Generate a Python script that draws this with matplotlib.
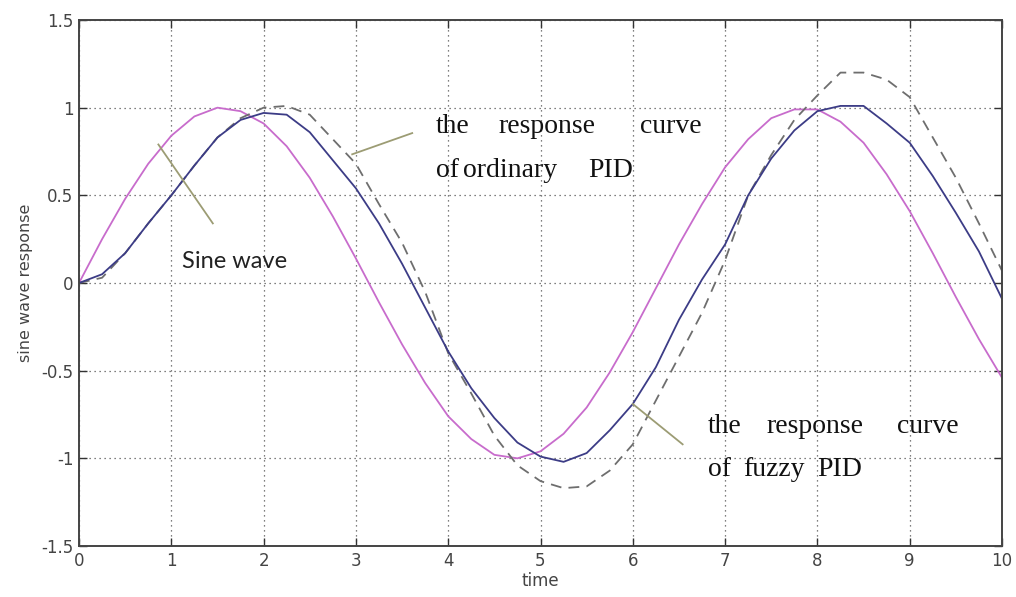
import matplotlib.pyplot as plt

# time grid (0.25 s steps)
t = [0.00, 0.25, 0.50, 0.75, 1.00, 1.25, 1.50, 1.75, 2.00, 2.25,
     2.50, 2.75, 3.00, 3.25, 3.50, 3.75, 4.00, 4.25, 4.50, 4.75,
     5.00, 5.25, 5.50, 5.75, 6.00, 6.25, 6.50, 6.75, 7.00, 7.25,
     7.50, 7.75, 8.00, 8.25, 8.50, 8.75, 9.00, 9.25, 9.50, 9.75, 10.00]

sine_wave = [0.00, 0.25, 0.48, 0.68, 0.84, 0.95, 1.00, 0.98, 0.91, 0.78,
             0.60, 0.38, 0.14, -0.11, -0.35, -0.57, -0.76, -0.89, -0.98, -1.00,
             -0.96, -0.86, -0.71, -0.51, -0.28, -0.03, 0.22, 0.45, 0.66, 0.82,
             0.94, 0.99, 0.99, 0.92, 0.80, 0.62, 0.41, 0.17, -0.08, -0.32, -0.54]

fuzzy_pid = [0.00, 0.05, 0.17, 0.34, 0.50, 0.67, 0.83, 0.93, 0.97, 0.96,
             0.86, 0.70, 0.54, 0.34, 0.11, -0.14, -0.39, -0.60, -0.77, -0.91,
             -0.99, -1.02, -0.97, -0.84, -0.69, -0.48, -0.21, 0.02, 0.22, 0.50,
             0.71, 0.87, 0.98, 1.01, 1.01, 0.91, 0.80, 0.61, 0.40, 0.18, -0.09]

ordinary_pid = [0.00, 0.03, 0.17, 0.34, 0.50, 0.67, 0.83, 0.94, 1.00, 1.01,
                0.96, 0.82, 0.68, 0.45, 0.23, -0.05, -0.40, -0.63, -0.87, -1.04,
                -1.13, -1.17, -1.16, -1.07, -0.92, -0.67, -0.42, -0.17, 0.13, 0.50,
                0.73, 0.93, 1.07, 1.20, 1.20, 1.16, 1.06, 0.83, 0.60, 0.34, 0.07]

x_ticks = [0, 1, 2, 3, 4, 5, 6, 7, 8, 9, 10]
y_ticks = [-1.5, -1, -0.5, 0, 0.5, 1, 1.5]
y_tick_labels = ['-1.5', '-1', '-0.5', '0', '0.5', '1', '1.5']

W, H = 1016, 597
fig = plt.figure(figsize=(W / 100, H / 100), dpi=100)
ax = fig.add_axes([79 / W, 1 - 546 / H, (1002 - 79) / W, (546 - 20) / H])


def px(x, y):
    return x / W, 1 - y / H


ax.plot(t, sine_wave, color='#c86ccc', lw=1.3)
ax.plot(t, ordinary_pid, color='#6e6e6e', lw=1.3, linestyle=(0, (6, 4)))
ax.plot(t, fuzzy_pid, color='#3c3c86', lw=1.3)

ax.set_xlim(0, 10)
ax.set_ylim(-1.5, 1.5)
ax.set_xticks(x_ticks)
ax.set_yticks(y_ticks)
ax.set_yticklabels(y_tick_labels)
ax.grid(True, color='#555555', linestyle=(0, (1, 3)), linewidth=0.9)
ax.tick_params(direction='in', top=True, right=True, length=6, width=1,
               labelsize=12, colors='#333333', pad=4)
for lab in ax.get_xticklabels() + ax.get_yticklabels():
    lab.set_color('#444444')
for s in ax.spines.values():
    s.set_color('#444444')
    s.set_linewidth(1.4)

ax.set_xlabel('time', fontsize=12, color='#444444', labelpad=2)
ax.set_ylabel('sine wave response', fontsize=11.5, color='#444444', labelpad=6)

# leader lines
lead = '#9c9c74'
ax.plot([0.86, 1.45], [0.79, 0.34], color=lead, lw=1.3)
ax.plot([3.61, 2.96], [0.855, 0.734], color=lead, lw=1.3)
ax.plot([6.00, 6.54], [-0.69, -0.92], color=lead, lw=1.3)

# annotations
fig.text(*px(182, 268), 'Sine wave', fontsize=17, family='Lato',
         color='#222222', va='baseline')

serif = dict(fontsize=20, family='Liberation Serif', color='#111111', va='baseline')
for x, y, word in [(436, 133, 'the'), (498, 133, 'response'), (640, 133, 'curve'),
                   (436, 177, 'of'), (463, 177, 'ordinary'), (588, 177, 'PID'),
                   (708, 433, 'the'), (766, 433, 'response'), (897, 433, 'curve'),
                   (708, 476, 'of'), (743, 476, 'fuzzy'), (817, 476, 'PID')]:
    fig.text(*px(x, y), word, **serif)

fig.savefig('out.png', dpi=100)
